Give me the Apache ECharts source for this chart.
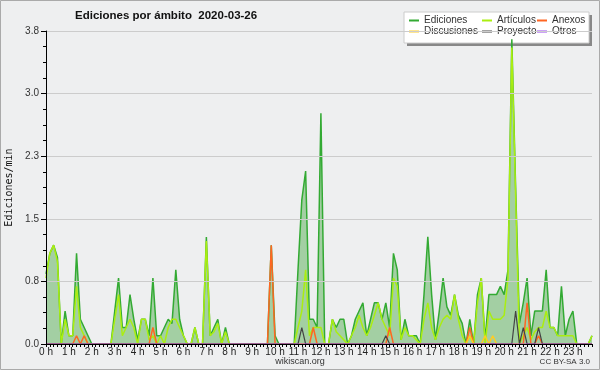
<!DOCTYPE html>
<html><head><meta charset="utf-8">
<script src="https://cdn.jsdelivr.net/npm/echarts@6/dist/echarts.min.js"></script>
<style>html,body{margin:0;padding:0;background:#eeeff0}#c{width:600px;height:370px}</style>
</head><body><div id="c"></div>
<script>
// tick labels (one per hour; data every 10 minutes)
const hourLabels = ['0 h','1 h','2 h','3 h','4 h','5 h','6 h','7 h','8 h','9 h','10 h','11 h','12 h','13 h','14 h','15 h','16 h','17 h','18 h','19 h','20 h','21 h','22 h','23 h'];
const yTicks = [0, 0.76, 1.52, 2.28, 3.04, 3.8];
const seriesNames = ['Ediciones','Artículos','Anexos','Discusiones','Proyecto','Otros'];

const ediciones = [
 0.85,1.1,1.2,1.05,0,0.4,   0.1,0.1,1.1,0.3,0.2,0.1,   0,0,0,0,0,0,
 0.4,0.8,0.2,0.2,0.6,0.3,   0.05,0.3,0.3,0.1,0.8,0.1,  0.1,0.2,0.3,0.25,0.9,0.3,
 0.1,0,0,0.2,0,0,           1.3,0.1,0.2,0.3,0,0.2,     0,0,0,0,0,0,
 0,0,0,0,0,1.2,             0.1,0,0,0,0,0,             0.9,1.75,2.1,0.3,0.3,0.2,
 2.8,0,0,0.3,0.2,0.3,       0.3,0,0.1,0.3,0.4,0.5,     0.1,0.3,0.5,0.5,0.3,0.5,
 0.2,1.1,0.9,0.05,0.3,0.1,  0.1,0.1,0,0.6,1.3,0.6,     0.05,0.4,0.8,0.45,0.35,0.6,
 0.35,0.25,0,0.3,0,0.6,     0.8,0.05,0.6,0.6,0.6,0.7,  0.6,0.9,3.7,1.9,0.25,0.5,
 0.8,0.1,0.4,0.4,0.4,0.9,   0.2,0.2,0.1,0.7,0.1,0.3,   0.4,0,0,0,0,0.1
];
const articulos = [
 0.8,1.1,1.2,1.0,0,0.3,     0.1,0.1,0.7,0.2,0.1,0,     0,0,0,0,0,0,
 0.3,0.6,0.1,0.2,0.3,0.2,   0,0.3,0.3,0.05,0.1,0,      0.1,0,0.2,0.3,0.3,0.2,
 0.1,0,0,0.2,0,0,           1.25,0.1,0.15,0.25,0,0.15, 0,0,0,0,0,0,
 0,0,0,0,0,0,               0,0,0,0,0,0,               0.2,0.4,0.9,0.1,0.2,0.2,
 0.2,0,0,0.3,0.15,0.1,      0.05,0,0.1,0.2,0.35,0.2,   0.1,0.2,0.35,0.5,0.3,0.2,
 0.1,0.8,0.7,0.05,0.2,0.1,  0.1,0.05,0,0.3,0.5,0.2,    0.05,0.2,0.3,0.35,0.3,0.6,
 0.3,0.1,0,0.1,0,0.5,       0.8,0,0.4,0.3,0.3,0.3,     0.35,0.8,3.6,1.8,0,0.1,
 0.2,0.05,0.15,0.2,0.2,0.4, 0.2,0.2,0.1,0.1,0.1,0.1,   0.1,0,0,0,0,0.1
];
const anexos = [
 0,0,0,0,0,0,  0,0,0.1,0,0.1,0,  0,0,0,0,0,0,
 0,0,0,0,0,0,  0,0,0,0,0.2,0,    0,0,0,0,0,0,
 0,0,0,0,0,0,  0,0,0,0,0,0,      0,0,0,0,0,0,
 0,0,0,0,0,1.2, 0,0,0,0,0,0,     0,0,0,0,0.2,0,
 0,0,0,0,0,0,  0,0,0,0,0,0,      0,0,0,0,0,0,
 0.2,0,0,0,0,0, 0,0,0,0,0,0,     0,0,0,0,0,0,
 0,0,0,0.2,0,0, 0,0,0,0,0,0,     0,0,0,0,0,0,
 0.5,0,0,0.1,0,0, 0,0,0,0,0,0,   0,0,0,0,0,0
];
const discusiones = [
 0,0,0,0,0,0, 0,0,0,0,0,0, 0,0,0,0,0,0,
 0,0,0,0,0,0, 0,0,0,0,0,0, 0,0,0,0,0,0,
 0,0,0,0,0,0, 0,0,0,0,0,0, 0,0,0,0,0,0,
 0,0,0,0,0,0, 0,0,0,0,0,0, 0,0,0,0,0,0,
 0,0,0,0,0,0, 0,0,0,0,0,0, 0,0,0,0,0,0,
 0,0,0,0,0,0, 0,0,0,0,0,0, 0,0,0,0,0,0,
 0,0,0,0.1,0,0, 0,0.1,0,0.1,0,0, 0,0,0,0,0,0,
 0,0,0,0,0,0, 0,0,0,0,0,0, 0,0,0,0,0,0
];
const proyecto = [
 0,0,0,0,0,0, 0,0,0,0,0,0, 0,0,0,0,0,0,
 0,0,0,0,0,0, 0,0,0,0,0,0, 0,0,0,0,0,0,
 0,0,0,0,0,0, 0,0,0,0,0,0, 0,0,0,0,0,0,
 0,0,0,0,0,0, 0,0,0,0,0,0, 0,0.2,0,0,0,0,
 0,0,0,0,0,0, 0,0,0,0,0,0, 0,0,0,0,0,0.1,
 0,0,0,0,0,0, 0,0,0,0,0,0, 0,0,0,0,0,0,
 0,0,0,0,0,0, 0,0,0,0,0,0, 0,0,0,0.4,0,0.2,
 0,0,0,0.2,0,0, 0,0,0,0,0,0, 0,0,0,0,0,0
];
const otros = [
 0,0,0,0,0,0, 0,0,0,0,0,0, 0,0,0,0,0,0,
 0,0,0,0,0,0, 0,0,0,0,0,0, 0,0,0,0,0,0,
 0,0,0,0,0,0, 0,0,0,0,0,0, 0,0,0,0,0,0,
 0,0,0,0,0,0, 0,0,0,0,0,0, 0,0,0,0,0,0,
 0,0,0,0,0,0, 0,0,0,0,0,0, 0,0,0,0,0,0,
 0,0,0,0,0,0, 0,0,0,0,0,0, 0,0,0,0,0,0,
 0,0,0,0,0,0, 0,0,0,0,0,0, 0,0,0,0,0,0,
 0,0,0,0,0,0, 0,0,0,0,0,0, 0,0,0,0,0,0
];

const slotsPerHour = 6;
const slots = ediciones.map((_, i) => i);
const F = 'Liberation Sans';

const chart = echarts.init(document.getElementById('c'));
function lineSeries(name, data, color, width, extra) {
  return Object.assign({
    name, type: 'line', data, color, symbol: 'none', smooth: false,
    lineStyle: { color, width }, animation: false
  }, extra || {});
}
const legendBase = {
  orient: 'vertical', top: 15, padding: 0, itemWidth: 10, itemHeight: 2, itemGap: 0, icon: 'rect',
  itemStyle: { borderWidth: 0 },
  textStyle: { fontFamily: F, fontSize: 10, color: '#333', lineHeight: 11 }, selectedMode: false
};
chart.setOption({
  backgroundColor: '#eeeff0',
  animation: false,
  title: { text: 'Ediciones por ámbito  2020-03-26', left: 75, top: 10, padding: 0,
    textStyle: { fontFamily: F, fontSize: 11.5, fontWeight: 'bold', color: '#111' } },
  graphic: [
    { type: 'rect', shape: { x: 0.5, y: 0.5, width: 599, height: 369 }, style: { fill: 'none', stroke: '#aaa', lineWidth: 1 }, z: 100 },
    { type: 'rect', shape: { x: 407, y: 15, width: 185, height: 31 }, style: { fill: '#888' }, z: 1 },
    { type: 'rect', shape: { x: 404, y: 12, width: 185, height: 31 }, style: { fill: '#fff', stroke: '#ccc', lineWidth: 1 }, z: 2 },
    { type: 'text', left: 'center', top: 357, style: { text: 'wikiscan.org', font: '9px ' + F, fill: '#333' }, z: 10 },
    { type: 'text', right: 10, top: 358, style: { text: 'CC BY-SA 3.0', font: '8px ' + F, fill: '#333' }, z: 10 }
  ],
  legend: [
    Object.assign({ left: 409, data: [seriesNames[0], seriesNames[3]] }, legendBase),
    Object.assign({ left: 482, data: [seriesNames[1], seriesNames[4]] }, legendBase),
    Object.assign({ left: 537, data: [seriesNames[2], seriesNames[5]] }, legendBase)
  ],
  grid: { left: 46, right: 8, top: 31, bottom: 26, containLabel: false, outerBoundsMode: 'none' },
  xAxis: {
    type: 'category', data: slots, boundaryGap: false, z: 10,
    axisLine: { lineStyle: { color: '#000', width: 1 } },
    axisTick: { interval: 0, length: 3, lineStyle: { color: '#000' } },
    axisLabel: { interval: (i) => i % slotsPerHour === 0,
      formatter: (v, i) => hourLabels[Math.round(i / slotsPerHour)],
      fontFamily: F, fontSize: 10, color: '#222', margin: 3 },
    splitLine: { show: false }
  },
  yAxis: {
    type: 'value', min: yTicks[0], max: yTicks[yTicks.length - 1], interval: yTicks[1], z: 10,
    name: 'Ediciones/min', nameLocation: 'middle', nameGap: 30, nameRotate: 90,
    nameTextStyle: { fontFamily: 'DejaVu Sans Mono', fontSize: 10, color: '#111' },
    axisLine: { show: true, lineStyle: { color: '#000' } },
    axisTick: { show: true, length: 5, lineStyle: { color: '#000' } },
    minorTick: { show: true, splitNumber: 4, length: 3, lineStyle: { color: '#000' } },
    axisLabel: { formatter: (v) => v.toFixed(1), fontFamily: F, fontSize: 10, color: '#333', margin: 7 },
    splitLine: { lineStyle: { color: '#cccccc', width: 1 } }
  },
  series: [
    lineSeries(seriesNames[0], ediciones, '#33aa33', 1.5, { areaStyle: { color: '#a3cfa3', opacity: 1 } }),
    lineSeries(seriesNames[1], articulos, '#aaee11', 1.5),
    lineSeries(seriesNames[2], anexos, '#ff6622', 1.5),
    lineSeries(seriesNames[3], discusiones, '#ffcc22', 1.5),
    lineSeries(seriesNames[4], proyecto, '#444444', 1.2),
    lineSeries(seriesNames[5], otros, '#9944ee', 1.2)
  ]
});
</script></body></html>
